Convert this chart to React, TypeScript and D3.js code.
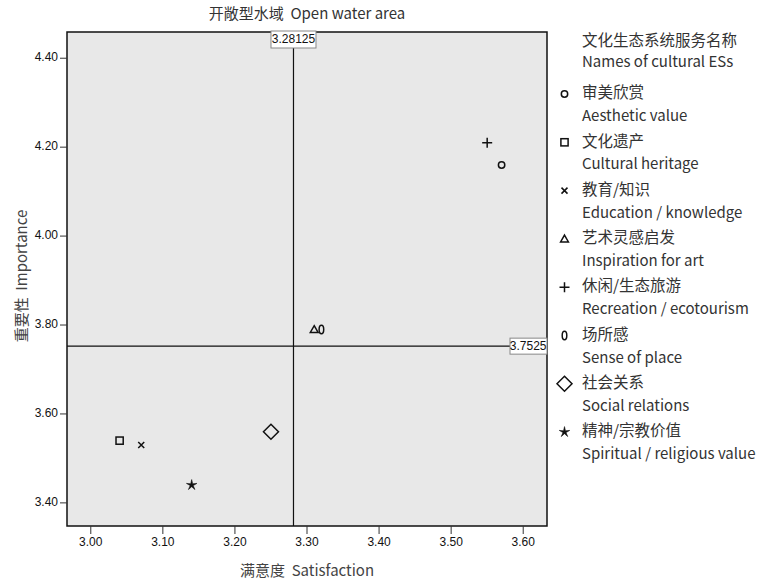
import React from "react";
import * as d3 from "d3";

const namesZh = ["审美欣赏", "文化遗产", "教育/知识", "艺术灵感启发", "休闲/生态旅游", "场所感", "社会关系", "精神/宗教价值"];
const namesEn = ["Aesthetic value", "Cultural heritage", "Education / knowledge", "Inspiration for art", "Recreation / ecotourism", "Sense of place", "Social relations", "Spiritual / religious value"];
const symbols = ["circle", "square", "cross", "triangle", "plus", "zero", "diamond", "star"];
const satisfaction = [3.57, 3.04, 3.07, 3.31, 3.55, 3.32, 3.25, 3.14];
const importance = [4.16, 3.54, 3.53, 3.79, 4.21, 3.79, 3.56, 3.44];
const xTicks = [3.0, 3.1, 3.2, 3.3, 3.4, 3.5, 3.6];
const yTicks = [3.4, 3.6, 3.8, 4.0, 4.2, 4.4];
const refX = 3.28125;
const refY = 3.7525;
const xDomain = [2.967, 3.633];
const yDomain = [3.348, 4.459];

const W = 762, H = 583;
const L = 67, R = 547, T = 32, B = 526;

const cjk = "'Noto Sans CJK SC', 'Noto Sans', sans-serif";
const arial = "'Liberation Sans', Arial, sans-serif";
const pre = { whiteSpace: "pre" as const };

function starPath(cx: number, cy: number, ro: number, ri: number) {
  const pts: string[] = [];
  for (let i = 0; i < 10; i++) {
    const r = i % 2 === 0 ? ro : ri;
    const a = -Math.PI / 2 + (i * Math.PI) / 5;
    pts.push(`${cx + r * Math.cos(a)},${cy + r * Math.sin(a)}`);
  }
  return "M" + pts.join("L") + "Z";
}

function Marker({ kind, cx, cy }: { kind: string; cx: number; cy: number }) {
  const s = { fill: "none", stroke: "#111", strokeWidth: 1.5 };
  switch (kind) {
    case "circle":
      return <circle cx={cx} cy={cy} r={3.2} {...s} />;
    case "square":
      return <rect x={cx - 3.6} y={cy - 3.6} width={7.2} height={7.2} {...s} />;
    case "cross":
      return <path d={`M${cx - 3},${cy - 3}L${cx + 3},${cy + 3}M${cx - 3},${cy + 3}L${cx + 3},${cy - 3}`} {...s} />;
    case "triangle":
      return <path d={`M${cx},${cy - 3.8}L${cx + 3.9},${cy + 3}L${cx - 3.9},${cy + 3}Z`} {...s} />;
    case "plus":
      return <path d={`M${cx - 5},${cy}L${cx + 5},${cy}M${cx},${cy - 5}L${cx},${cy + 5}`} {...s} />;
    case "zero":
      return <ellipse cx={cx} cy={cy} rx={2.3} ry={4.2} {...s} />;
    case "diamond":
      return <path d={`M${cx},${cy - 7.5}L${cx + 7.5},${cy}L${cx},${cy + 7.5}L${cx - 7.5},${cy}Z`} {...s} />;
    case "star":
      return <path d={starPath(cx, cy, 5.5, 1.6)} fill="#111" stroke="#111" strokeWidth={0.6} />;
    default:
      return null;
  }
}

export default function App() {
  const x = d3.scaleLinear().domain(xDomain).range([L, R]);
  const y = d3.scaleLinear().domain(yDomain).range([B, T]);
  const fmt = d3.format(".2f");
  const rx = x(refX);
  const ry = y(refY);
  const legendTop = 94;
  const step = 48.3;

  return (
    <svg width={W} height={H} style={{ position: "absolute", left: 0, top: 0, background: "#fff" }}>
      <rect x={0} y={0} width={W} height={H} fill="#fff" />
      <text x={(L + R) / 2} y={15} textAnchor="middle" dominantBaseline="middle" fontFamily={cjk} fontSize={15} fill="#333" style={pre}>
        {"开敞型水域  Open water area"}
      </text>
      <rect x={L} y={T} width={R - L} height={B - T} fill="#e8e8e8" />
      <line x1={rx} x2={rx} y1={T} y2={B} stroke="#111" strokeWidth={1.2} />
      <line x1={L} x2={R} y1={ry} y2={ry} stroke="#111" strokeWidth={1.2} />
      {satisfaction.map((v, i) => (
        <Marker key={i} kind={symbols[i]} cx={x(v)} cy={y(importance[i])} />
      ))}
      <rect x={L} y={T} width={R - L} height={B - T} fill="none" stroke="#111" strokeWidth={1.5} />
      <rect x={rx - 22.5} y={T - 1} width={45} height={17} fill="#fff" stroke="#888" strokeWidth={1} />
      <text x={rx} y={T + 8} textAnchor="middle" dominantBaseline="middle" fontFamily={arial} fontSize={12} fill="#111">
        {String(refX)}
      </text>
      <rect x={R - 37} y={ry - 8} width={37} height={16} fill="#fff" stroke="#888" strokeWidth={1} />
      <text x={R - 0.5} y={ry + 0.5} textAnchor="end" dominantBaseline="middle" fontFamily={arial} fontSize={12} fill="#111">
        {String(refY)}
      </text>
      {yTicks.map((t) => (
        <g key={t}>
          <line x1={L - 7} x2={L} y1={y(t)} y2={y(t)} stroke="#333" strokeWidth={1} />
          <text x={L - 9} y={y(t)} textAnchor="end" dominantBaseline="middle" fontFamily={arial} fontSize={12} fill="#111">
            {fmt(t)}
          </text>
        </g>
      ))}
      {xTicks.map((t) => (
        <g key={t}>
          <line x1={x(t)} x2={x(t)} y1={B} y2={B + 8} stroke="#333" strokeWidth={1} />
          <text x={x(t)} y={B + 17} textAnchor="middle" dominantBaseline="middle" fontFamily={arial} fontSize={12} fill="#111">
            {fmt(t)}
          </text>
        </g>
      ))}
      <text x={(L + R) / 2} y={572} textAnchor="middle" dominantBaseline="middle" fontFamily={cjk} fontSize={15} fill="#444" style={pre}>
        {"满意度  Satisfaction"}
      </text>
      <text transform={`translate(23,${(T + B) / 2 - 3}) rotate(-90)`} textAnchor="middle" dominantBaseline="middle" fontFamily={cjk} fontSize={15} fill="#444" style={pre}>
        {"重要性  Importance"}
      </text>
      <text x={582} y={41.5} dominantBaseline="middle" fontFamily={cjk} fontSize={15.5} fill="#333">文化生态系统服务名称</text>
      <text x={582} y={63} dominantBaseline="middle" fontFamily={cjk} fontSize={15} fill="#333">Names of cultural ESs</text>
      {namesZh.map((n, i) => {
        const yy = legendTop + i * step;
        return (
          <g key={n}>
            <Marker kind={symbols[i]} cx={564.5} cy={yy} />
            <text x={582} y={yy} dominantBaseline="middle" fontFamily={cjk} fontSize={15.5} fill="#333">{n}</text>
            <text x={582} y={yy + 23} dominantBaseline="middle" fontFamily={cjk} fontSize={15} fill="#333">{namesEn[i]}</text>
          </g>
        );
      })}
    </svg>
  );
}
